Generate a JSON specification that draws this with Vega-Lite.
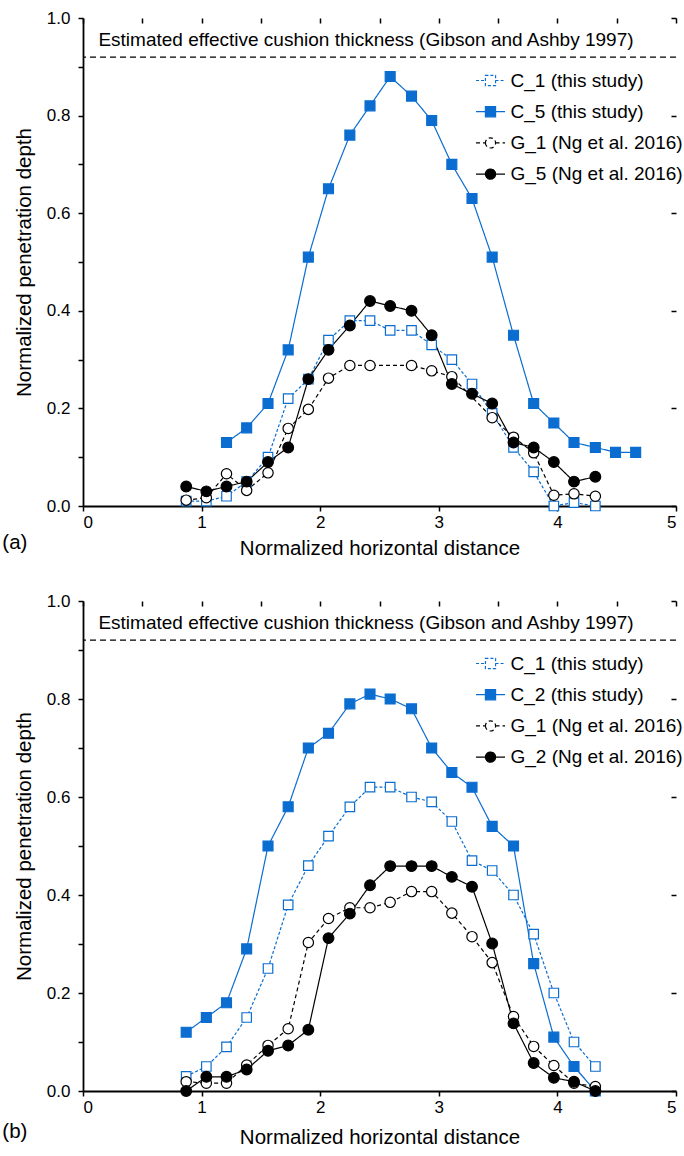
{
  "$schema": "https://vega.github.io/schema/vega-lite/v6.json",
  "padding": {"left": 2, "top": 9, "right": 0, "bottom": 0},
  "spacing": 33,
  "config": {
    "view": {"stroke": null},
    "font": "Liberation Sans",
    "axis": {"domainColor": "black", "domainWidth": 1.8, "tickColor": "black", "tickWidth": 1.5, "labelColor": "black", "titleColor": "black", "labelFont": "Liberation Sans", "titleFont": "Liberation Sans", "labelFontSize": 17, "titleFontSize": 20.5, "titleFontWeight": "normal", "grid": false, "labelOverlap": false},
    "title": {"font": "Liberation Sans", "fontWeight": "normal", "fontSize": 20.5, "color": "black"},
    "legend": {"orient": "none", "legendX": 392, "legendY": 47, "title": null, "labelFontSize": 19, "labelFont": "Liberation Sans", "labelColor": "black", "labelOffset": 4.5, "symbolSize": 841, "rowPadding": 5.2, "labelLimit": 400}
  },
  "datasets": {
    "a": [
      {"s": "C_5 (this study)", "x": 1.21, "y": 0.13}, {"s": "C_5 (this study)", "x": 1.38, "y": 0.16}, {"s": "C_5 (this study)", "x": 1.56, "y": 0.21}, {"s": "C_5 (this study)", "x": 1.73, "y": 0.32}, {"s": "C_5 (this study)", "x": 1.90, "y": 0.51}, {"s": "C_5 (this study)", "x": 2.07, "y": 0.65}, {"s": "C_5 (this study)", "x": 2.25, "y": 0.76}, {"s": "C_5 (this study)", "x": 2.42, "y": 0.82}, {"s": "C_5 (this study)", "x": 2.59, "y": 0.88}, {"s": "C_5 (this study)", "x": 2.77, "y": 0.84}, {"s": "C_5 (this study)", "x": 2.94, "y": 0.79}, {"s": "C_5 (this study)", "x": 3.11, "y": 0.70}, {"s": "C_5 (this study)", "x": 3.28, "y": 0.63}, {"s": "C_5 (this study)", "x": 3.45, "y": 0.51}, {"s": "C_5 (this study)", "x": 3.63, "y": 0.35}, {"s": "C_5 (this study)", "x": 3.80, "y": 0.21}, {"s": "C_5 (this study)", "x": 3.97, "y": 0.17}, {"s": "C_5 (this study)", "x": 4.14, "y": 0.13}, {"s": "C_5 (this study)", "x": 4.32, "y": 0.12}, {"s": "C_5 (this study)", "x": 4.49, "y": 0.11}, {"s": "C_5 (this study)", "x": 4.66, "y": 0.11},
      {"s": "C_1 (this study)", "x": 0.87, "y": 0.01}, {"s": "C_1 (this study)", "x": 1.04, "y": 0.01}, {"s": "C_1 (this study)", "x": 1.21, "y": 0.02}, {"s": "C_1 (this study)", "x": 1.38, "y": 0.05}, {"s": "C_1 (this study)", "x": 1.56, "y": 0.10}, {"s": "C_1 (this study)", "x": 1.73, "y": 0.22}, {"s": "C_1 (this study)", "x": 1.90, "y": 0.26}, {"s": "C_1 (this study)", "x": 2.07, "y": 0.34}, {"s": "C_1 (this study)", "x": 2.25, "y": 0.38}, {"s": "C_1 (this study)", "x": 2.42, "y": 0.38}, {"s": "C_1 (this study)", "x": 2.59, "y": 0.36}, {"s": "C_1 (this study)", "x": 2.77, "y": 0.36}, {"s": "C_1 (this study)", "x": 2.94, "y": 0.33}, {"s": "C_1 (this study)", "x": 3.11, "y": 0.30}, {"s": "C_1 (this study)", "x": 3.28, "y": 0.25}, {"s": "C_1 (this study)", "x": 3.45, "y": 0.19}, {"s": "C_1 (this study)", "x": 3.63, "y": 0.12}, {"s": "C_1 (this study)", "x": 3.80, "y": 0.07}, {"s": "C_1 (this study)", "x": 3.97, "y": 0.0}, {"s": "C_1 (this study)", "x": 4.14, "y": 0.007}, {"s": "C_1 (this study)", "x": 4.32, "y": 0.0},
      {"s": "G_1 (Ng et al. 2016)", "x": 0.87, "y": 0.012}, {"s": "G_1 (Ng et al. 2016)", "x": 1.04, "y": 0.017}, {"s": "G_1 (Ng et al. 2016)", "x": 1.21, "y": 0.066}, {"s": "G_1 (Ng et al. 2016)", "x": 1.38, "y": 0.032}, {"s": "G_1 (Ng et al. 2016)", "x": 1.56, "y": 0.068}, {"s": "G_1 (Ng et al. 2016)", "x": 1.73, "y": 0.159}, {"s": "G_1 (Ng et al. 2016)", "x": 1.90, "y": 0.198}, {"s": "G_1 (Ng et al. 2016)", "x": 2.07, "y": 0.262}, {"s": "G_1 (Ng et al. 2016)", "x": 2.25, "y": 0.288}, {"s": "G_1 (Ng et al. 2016)", "x": 2.42, "y": 0.288}, {"s": "G_1 (Ng et al. 2016)", "x": 2.77, "y": 0.288}, {"s": "G_1 (Ng et al. 2016)", "x": 2.94, "y": 0.277}, {"s": "G_1 (Ng et al. 2016)", "x": 3.11, "y": 0.265}, {"s": "G_1 (Ng et al. 2016)", "x": 3.45, "y": 0.181}, {"s": "G_1 (Ng et al. 2016)", "x": 3.63, "y": 0.141}, {"s": "G_1 (Ng et al. 2016)", "x": 3.80, "y": 0.109}, {"s": "G_1 (Ng et al. 2016)", "x": 3.97, "y": 0.022}, {"s": "G_1 (Ng et al. 2016)", "x": 4.14, "y": 0.025}, {"s": "G_1 (Ng et al. 2016)", "x": 4.32, "y": 0.020},
      {"s": "G_5 (Ng et al. 2016)", "x": 0.87, "y": 0.04}, {"s": "G_5 (Ng et al. 2016)", "x": 1.04, "y": 0.03}, {"s": "G_5 (Ng et al. 2016)", "x": 1.21, "y": 0.04}, {"s": "G_5 (Ng et al. 2016)", "x": 1.38, "y": 0.05}, {"s": "G_5 (Ng et al. 2016)", "x": 1.56, "y": 0.09}, {"s": "G_5 (Ng et al. 2016)", "x": 1.73, "y": 0.12}, {"s": "G_5 (Ng et al. 2016)", "x": 1.90, "y": 0.26}, {"s": "G_5 (Ng et al. 2016)", "x": 2.07, "y": 0.32}, {"s": "G_5 (Ng et al. 2016)", "x": 2.25, "y": 0.37}, {"s": "G_5 (Ng et al. 2016)", "x": 2.42, "y": 0.42}, {"s": "G_5 (Ng et al. 2016)", "x": 2.59, "y": 0.41}, {"s": "G_5 (Ng et al. 2016)", "x": 2.77, "y": 0.40}, {"s": "G_5 (Ng et al. 2016)", "x": 2.94, "y": 0.35}, {"s": "G_5 (Ng et al. 2016)", "x": 3.11, "y": 0.25}, {"s": "G_5 (Ng et al. 2016)", "x": 3.28, "y": 0.23}, {"s": "G_5 (Ng et al. 2016)", "x": 3.45, "y": 0.21}, {"s": "G_5 (Ng et al. 2016)", "x": 3.63, "y": 0.13}, {"s": "G_5 (Ng et al. 2016)", "x": 3.80, "y": 0.12}, {"s": "G_5 (Ng et al. 2016)", "x": 3.97, "y": 0.09}, {"s": "G_5 (Ng et al. 2016)", "x": 4.14, "y": 0.05}, {"s": "G_5 (Ng et al. 2016)", "x": 4.32, "y": 0.06}
    ],
    "b": [
      {"s": "C_2 (this study)", "x": 0.87, "y": 0.12}, {"s": "C_2 (this study)", "x": 1.04, "y": 0.15}, {"s": "C_2 (this study)", "x": 1.21, "y": 0.18}, {"s": "C_2 (this study)", "x": 1.38, "y": 0.29}, {"s": "C_2 (this study)", "x": 1.56, "y": 0.50}, {"s": "C_2 (this study)", "x": 1.73, "y": 0.58}, {"s": "C_2 (this study)", "x": 1.90, "y": 0.70}, {"s": "C_2 (this study)", "x": 2.07, "y": 0.73}, {"s": "C_2 (this study)", "x": 2.25, "y": 0.79}, {"s": "C_2 (this study)", "x": 2.42, "y": 0.81}, {"s": "C_2 (this study)", "x": 2.59, "y": 0.80}, {"s": "C_2 (this study)", "x": 2.77, "y": 0.78}, {"s": "C_2 (this study)", "x": 2.94, "y": 0.70}, {"s": "C_2 (this study)", "x": 3.11, "y": 0.65}, {"s": "C_2 (this study)", "x": 3.28, "y": 0.62}, {"s": "C_2 (this study)", "x": 3.45, "y": 0.54}, {"s": "C_2 (this study)", "x": 3.63, "y": 0.50}, {"s": "C_2 (this study)", "x": 3.80, "y": 0.26}, {"s": "C_2 (this study)", "x": 3.97, "y": 0.11}, {"s": "C_2 (this study)", "x": 4.14, "y": 0.05}, {"s": "C_2 (this study)", "x": 4.32, "y": 0.0},
      {"s": "C_1 (this study)", "x": 0.87, "y": 0.03}, {"s": "C_1 (this study)", "x": 1.04, "y": 0.05}, {"s": "C_1 (this study)", "x": 1.21, "y": 0.09}, {"s": "C_1 (this study)", "x": 1.38, "y": 0.15}, {"s": "C_1 (this study)", "x": 1.56, "y": 0.25}, {"s": "C_1 (this study)", "x": 1.73, "y": 0.38}, {"s": "C_1 (this study)", "x": 1.90, "y": 0.46}, {"s": "C_1 (this study)", "x": 2.07, "y": 0.52}, {"s": "C_1 (this study)", "x": 2.25, "y": 0.58}, {"s": "C_1 (this study)", "x": 2.42, "y": 0.62}, {"s": "C_1 (this study)", "x": 2.59, "y": 0.62}, {"s": "C_1 (this study)", "x": 2.77, "y": 0.60}, {"s": "C_1 (this study)", "x": 2.94, "y": 0.59}, {"s": "C_1 (this study)", "x": 3.11, "y": 0.55}, {"s": "C_1 (this study)", "x": 3.28, "y": 0.47}, {"s": "C_1 (this study)", "x": 3.45, "y": 0.45}, {"s": "C_1 (this study)", "x": 3.63, "y": 0.40}, {"s": "C_1 (this study)", "x": 3.80, "y": 0.32}, {"s": "C_1 (this study)", "x": 3.97, "y": 0.20}, {"s": "C_1 (this study)", "x": 4.14, "y": 0.10}, {"s": "C_1 (this study)", "x": 4.32, "y": 0.05},
      {"s": "G_1 (Ng et al. 2016)", "x": 0.87, "y": 0.019}, {"s": "G_1 (Ng et al. 2016)", "x": 1.04, "y": 0.016}, {"s": "G_1 (Ng et al. 2016)", "x": 1.21, "y": 0.016}, {"s": "G_1 (Ng et al. 2016)", "x": 1.38, "y": 0.053}, {"s": "G_1 (Ng et al. 2016)", "x": 1.56, "y": 0.093}, {"s": "G_1 (Ng et al. 2016)", "x": 1.73, "y": 0.127}, {"s": "G_1 (Ng et al. 2016)", "x": 1.90, "y": 0.303}, {"s": "G_1 (Ng et al. 2016)", "x": 2.07, "y": 0.352}, {"s": "G_1 (Ng et al. 2016)", "x": 2.25, "y": 0.374}, {"s": "G_1 (Ng et al. 2016)", "x": 2.42, "y": 0.374}, {"s": "G_1 (Ng et al. 2016)", "x": 2.59, "y": 0.385}, {"s": "G_1 (Ng et al. 2016)", "x": 2.77, "y": 0.407}, {"s": "G_1 (Ng et al. 2016)", "x": 2.94, "y": 0.407}, {"s": "G_1 (Ng et al. 2016)", "x": 3.11, "y": 0.363}, {"s": "G_1 (Ng et al. 2016)", "x": 3.28, "y": 0.315}, {"s": "G_1 (Ng et al. 2016)", "x": 3.45, "y": 0.262}, {"s": "G_1 (Ng et al. 2016)", "x": 3.63, "y": 0.152}, {"s": "G_1 (Ng et al. 2016)", "x": 3.80, "y": 0.091}, {"s": "G_1 (Ng et al. 2016)", "x": 3.97, "y": 0.052}, {"s": "G_1 (Ng et al. 2016)", "x": 4.14, "y": 0.016}, {"s": "G_1 (Ng et al. 2016)", "x": 4.32, "y": 0.009},
      {"s": "G_2 (Ng et al. 2016)", "x": 0.87, "y": 0.0}, {"s": "G_2 (Ng et al. 2016)", "x": 1.04, "y": 0.029}, {"s": "G_2 (Ng et al. 2016)", "x": 1.21, "y": 0.029}, {"s": "G_2 (Ng et al. 2016)", "x": 1.38, "y": 0.044}, {"s": "G_2 (Ng et al. 2016)", "x": 1.56, "y": 0.082}, {"s": "G_2 (Ng et al. 2016)", "x": 1.73, "y": 0.093}, {"s": "G_2 (Ng et al. 2016)", "x": 1.90, "y": 0.125}, {"s": "G_2 (Ng et al. 2016)", "x": 2.07, "y": 0.312}, {"s": "G_2 (Ng et al. 2016)", "x": 2.25, "y": 0.362}, {"s": "G_2 (Ng et al. 2016)", "x": 2.42, "y": 0.420}, {"s": "G_2 (Ng et al. 2016)", "x": 2.59, "y": 0.459}, {"s": "G_2 (Ng et al. 2016)", "x": 2.77, "y": 0.459}, {"s": "G_2 (Ng et al. 2016)", "x": 2.94, "y": 0.459}, {"s": "G_2 (Ng et al. 2016)", "x": 3.11, "y": 0.437}, {"s": "G_2 (Ng et al. 2016)", "x": 3.28, "y": 0.417}, {"s": "G_2 (Ng et al. 2016)", "x": 3.45, "y": 0.301}, {"s": "G_2 (Ng et al. 2016)", "x": 3.63, "y": 0.138}, {"s": "G_2 (Ng et al. 2016)", "x": 3.80, "y": 0.057}, {"s": "G_2 (Ng et al. 2016)", "x": 3.97, "y": 0.027}, {"s": "G_2 (Ng et al. 2016)", "x": 4.14, "y": 0.019}, {"s": "G_2 (Ng et al. 2016)", "x": 4.32, "y": 0.0}
    ]
  },
  "resolve": {"scale": {"stroke": "independent", "strokeDash": "independent", "strokeWidth": "independent", "fill": "independent", "shape": "independent", "size": "independent"}},
  "vconcat": [
    {
      "width": 593, "height": 488,
      "title": {"text": "(a)", "orient": "bottom", "anchor": "start", "frame": "bounds", "offset": -26, "dx": -12},
      "resolve": {"axis": {"x": "independent", "y": "independent"}, "scale": {"stroke": "independent", "strokeDash": "independent", "strokeWidth": "independent", "fill": "independent", "shape": "independent", "size": "independent"}},
      "layer": [
        {"data": {"values": [{"t": 0.92}]}, "mark": {"type": "rule", "strokeDash": [6, 4], "strokeWidth": 1.3, "color": "black"}, "encoding": {"y": {"field": "t", "type": "quantitative", "axis": null}}},
        {"data": {"values": [{"t": 0.92, "label": "Estimated effective cushion thickness  (Gibson and Ashby 1997)"}]}, "mark": {"type": "text", "align": "left", "baseline": "middle", "fontSize": 19, "dy": -17, "color": "black"}, "encoding": {"x": {"datum": 0.13, "type": "quantitative", "axis": null}, "y": {"field": "t", "type": "quantitative", "axis": null}, "text": {"field": "label"}}},
        {"data": {"name": "a"}, "mark": {"type": "line"},
          "encoding": {
            "x": {"field": "x", "type": "quantitative", "scale": {"domain": [0, 5], "nice": false}, "axis": {"values": [0, 1, 2, 3, 4, 5], "tickSize": 5, "labelPadding": 3, "titlePadding": 8, "title": "Normalized horizontal distance"}},
            "y": {"field": "y", "type": "quantitative", "scale": {"domain": [0, 1], "nice": false}, "axis": {"values": [0, 0.1, 0.2, 0.3, 0.4, 0.5, 0.6, 0.7, 0.8, 0.9, 1.0], "tickSize": 5, "labelPadding": 8, "titlePadding": 12, "labelExpr": "round(datum.value*10) % 2 == 0 ? format(datum.value, '.1f') : ''", "title": "Normalized penetration depth"}},
            "stroke": {"field": "s", "type": "nominal", "scale": {"domain": ["C_1 (this study)", "C_5 (this study)", "G_1 (Ng et al. 2016)", "G_5 (Ng et al. 2016)"], "range": ["#0b6dd0", "#0b6dd0", "black", "black"]}, "legend": null},
            "strokeDash": {"field": "s", "type": "nominal", "scale": {"domain": ["C_1 (this study)", "C_5 (this study)", "G_1 (Ng et al. 2016)", "G_5 (Ng et al. 2016)"], "range": [[3, 2], [1, 0], [4, 3], [1, 0]]}, "legend": null},
            "strokeWidth": {"field": "s", "type": "nominal", "scale": {"domain": ["C_1 (this study)", "C_5 (this study)", "G_1 (Ng et al. 2016)", "G_5 (Ng et al. 2016)"], "range": [1.2, 1.2, 1, 2]}, "legend": null}
          }},
        {"data": {"name": "a"}, "mark": {"type": "point", "filled": true, "opacity": 1, "strokeWidth": 1.2},
          "encoding": {
            "x": {"field": "x", "type": "quantitative", "scale": {"domain": [0, 5], "nice": false}, "axis": {"values": [0, 0.5, 1, 1.5, 2, 2.5, 3, 3.5, 4, 4.5, 5], "tickSize": -5, "labels": false, "domain": false, "title": null}},
            "y": {"field": "y", "type": "quantitative", "scale": {"domain": [0, 1], "nice": false}, "axis": {"values": [0, 0.2, 0.4, 0.6, 0.8, 1.0], "tickSize": -5, "labels": false, "domain": false, "title": null}},
            "stroke": {"field": "s", "type": "nominal", "scale": {"domain": ["C_1 (this study)", "C_5 (this study)", "G_1 (Ng et al. 2016)", "G_5 (Ng et al. 2016)"], "range": ["#0b6dd0", "#0b6dd0", "black", "black"]}, "legend": null},
            "fill": {"field": "s", "type": "nominal", "scale": {"domain": ["C_1 (this study)", "C_5 (this study)", "G_1 (Ng et al. 2016)", "G_5 (Ng et al. 2016)"], "range": ["white", "#0b6dd0", "white", "black"]}, "legend": null},
            "shape": {"field": "s", "type": "nominal", "scale": {"domain": ["C_1 (this study)", "C_5 (this study)", "G_1 (Ng et al. 2016)", "G_5 (Ng et al. 2016)"], "range": ["square", "square", "circle", "circle"]}, "legend": null},
            "size": {"field": "s", "type": "nominal", "scale": {"domain": ["C_1 (this study)", "C_5 (this study)", "G_1 (Ng et al. 2016)", "G_5 (Ng et al. 2016)"], "range": [90, 115, 90, 115]}, "legend": null}
          }},
        {"data": {"name": "a"}, "transform": [{"filter": "false"}], "mark": {"type": "point", "filled": true, "opacity": 1},
          "encoding": {
            "shape": {"field": "s", "type": "nominal", "scale": {"domain": ["C_1 (this study)", "C_5 (this study)", "G_1 (Ng et al. 2016)", "G_5 (Ng et al. 2016)"], "range": ["M-1,0H-0.35M-0.35,-0.35H0.35V0.35H-0.35ZM0.35,0H1", "M-1,0H-0.35M-0.35,-0.35H0.35V0.35H-0.35ZM0.35,0H1", "M-1,0H-0.35M-0.35,0A0.35,0.35 0 1,0 0.35,0A0.35,0.35 0 1,0 -0.35,0M0.35,0H1", "M-1,0H-0.35M-0.35,0A0.35,0.35 0 1,0 0.35,0A0.35,0.35 0 1,0 -0.35,0M0.35,0H1"]}},
            "stroke": {"field": "s", "type": "nominal", "scale": {"domain": ["C_1 (this study)", "C_5 (this study)", "G_1 (Ng et al. 2016)", "G_5 (Ng et al. 2016)"], "range": ["#0b6dd0", "#0b6dd0", "black", "black"]}},
            "fill": {"field": "s", "type": "nominal", "scale": {"domain": ["C_1 (this study)", "C_5 (this study)", "G_1 (Ng et al. 2016)", "G_5 (Ng et al. 2016)"], "range": ["white", "#0b6dd0", "white", "black"]}},
            "strokeDash": {"field": "s", "type": "nominal", "scale": {"domain": ["C_1 (this study)", "C_5 (this study)", "G_1 (Ng et al. 2016)", "G_5 (Ng et al. 2016)"], "range": [[3, 2], [1, 0], [4, 3], [1, 0]]}},
            "strokeWidth": {"field": "s", "type": "nominal", "scale": {"domain": ["C_1 (this study)", "C_5 (this study)", "G_1 (Ng et al. 2016)", "G_5 (Ng et al. 2016)"], "range": [1.2, 1.2, 1.2, 2]}}
          }}
      ]
    },
    {
      "width": 593, "height": 490,
      "title": {"text": "(b)", "orient": "bottom", "anchor": "start", "frame": "bounds", "offset": -26, "dx": -12},
      "resolve": {"axis": {"x": "independent", "y": "independent"}, "scale": {"stroke": "independent", "strokeDash": "independent", "strokeWidth": "independent", "fill": "independent", "shape": "independent", "size": "independent"}},
      "layer": [
        {"data": {"values": [{"t": 0.92}]}, "mark": {"type": "rule", "strokeDash": [6, 4], "strokeWidth": 1.3, "color": "black"}, "encoding": {"y": {"field": "t", "type": "quantitative", "axis": null}}},
        {"data": {"values": [{"t": 0.92, "label": "Estimated effective cushion thickness  (Gibson and Ashby 1997)"}]}, "mark": {"type": "text", "align": "left", "baseline": "middle", "fontSize": 19, "dy": -17, "color": "black"}, "encoding": {"x": {"datum": 0.13, "type": "quantitative", "axis": null}, "y": {"field": "t", "type": "quantitative", "axis": null}, "text": {"field": "label"}}},
        {"data": {"name": "b"}, "mark": {"type": "line"},
          "encoding": {
            "x": {"field": "x", "type": "quantitative", "scale": {"domain": [0, 5], "nice": false}, "axis": {"values": [0, 1, 2, 3, 4, 5], "tickSize": 5, "labelPadding": 3, "titlePadding": 12, "title": "Normalized horizontal distance"}},
            "y": {"field": "y", "type": "quantitative", "scale": {"domain": [0, 1], "nice": false}, "axis": {"values": [0, 0.1, 0.2, 0.3, 0.4, 0.5, 0.6, 0.7, 0.8, 0.9, 1.0], "tickSize": 5, "labelPadding": 8, "titlePadding": 12, "labelExpr": "round(datum.value*10) % 2 == 0 ? format(datum.value, '.1f') : ''", "title": "Normalized penetration depth"}},
            "stroke": {"field": "s", "type": "nominal", "scale": {"domain": ["C_1 (this study)", "C_2 (this study)", "G_1 (Ng et al. 2016)", "G_2 (Ng et al. 2016)"], "range": ["#0b6dd0", "#0b6dd0", "black", "black"]}, "legend": null},
            "strokeDash": {"field": "s", "type": "nominal", "scale": {"domain": ["C_1 (this study)", "C_2 (this study)", "G_1 (Ng et al. 2016)", "G_2 (Ng et al. 2016)"], "range": [[3, 2], [1, 0], [4, 3], [1, 0]]}, "legend": null},
            "strokeWidth": {"field": "s", "type": "nominal", "scale": {"domain": ["C_1 (this study)", "C_2 (this study)", "G_1 (Ng et al. 2016)", "G_2 (Ng et al. 2016)"], "range": [1.2, 1.2, 1, 2]}, "legend": null}
          }},
        {"data": {"name": "b"}, "mark": {"type": "point", "filled": true, "opacity": 1, "strokeWidth": 1.2},
          "encoding": {
            "x": {"field": "x", "type": "quantitative", "scale": {"domain": [0, 5], "nice": false}, "axis": {"values": [0, 0.5, 1, 1.5, 2, 2.5, 3, 3.5, 4, 4.5, 5], "tickSize": -5, "labels": false, "domain": false, "title": null}},
            "y": {"field": "y", "type": "quantitative", "scale": {"domain": [0, 1], "nice": false}, "axis": {"values": [0, 0.2, 0.4, 0.6, 0.8, 1.0], "tickSize": -5, "labels": false, "domain": false, "title": null}},
            "stroke": {"field": "s", "type": "nominal", "scale": {"domain": ["C_1 (this study)", "C_2 (this study)", "G_1 (Ng et al. 2016)", "G_2 (Ng et al. 2016)"], "range": ["#0b6dd0", "#0b6dd0", "black", "black"]}, "legend": null},
            "fill": {"field": "s", "type": "nominal", "scale": {"domain": ["C_1 (this study)", "C_2 (this study)", "G_1 (Ng et al. 2016)", "G_2 (Ng et al. 2016)"], "range": ["white", "#0b6dd0", "white", "black"]}, "legend": null},
            "shape": {"field": "s", "type": "nominal", "scale": {"domain": ["C_1 (this study)", "C_2 (this study)", "G_1 (Ng et al. 2016)", "G_2 (Ng et al. 2016)"], "range": ["square", "square", "circle", "circle"]}, "legend": null},
            "size": {"field": "s", "type": "nominal", "scale": {"domain": ["C_1 (this study)", "C_2 (this study)", "G_1 (Ng et al. 2016)", "G_2 (Ng et al. 2016)"], "range": [90, 115, 90, 115]}, "legend": null}
          }},
        {"data": {"name": "b"}, "transform": [{"filter": "false"}], "mark": {"type": "point", "filled": true, "opacity": 1},
          "encoding": {
            "shape": {"field": "s", "type": "nominal", "scale": {"domain": ["C_1 (this study)", "C_2 (this study)", "G_1 (Ng et al. 2016)", "G_2 (Ng et al. 2016)"], "range": ["M-1,0H-0.35M-0.35,-0.35H0.35V0.35H-0.35ZM0.35,0H1", "M-1,0H-0.35M-0.35,-0.35H0.35V0.35H-0.35ZM0.35,0H1", "M-1,0H-0.35M-0.35,0A0.35,0.35 0 1,0 0.35,0A0.35,0.35 0 1,0 -0.35,0M0.35,0H1", "M-1,0H-0.35M-0.35,0A0.35,0.35 0 1,0 0.35,0A0.35,0.35 0 1,0 -0.35,0M0.35,0H1"]}},
            "stroke": {"field": "s", "type": "nominal", "scale": {"domain": ["C_1 (this study)", "C_2 (this study)", "G_1 (Ng et al. 2016)", "G_2 (Ng et al. 2016)"], "range": ["#0b6dd0", "#0b6dd0", "black", "black"]}},
            "fill": {"field": "s", "type": "nominal", "scale": {"domain": ["C_1 (this study)", "C_2 (this study)", "G_1 (Ng et al. 2016)", "G_2 (Ng et al. 2016)"], "range": ["white", "#0b6dd0", "white", "black"]}},
            "strokeDash": {"field": "s", "type": "nominal", "scale": {"domain": ["C_1 (this study)", "C_2 (this study)", "G_1 (Ng et al. 2016)", "G_2 (Ng et al. 2016)"], "range": [[3, 2], [1, 0], [4, 3], [1, 0]]}},
            "strokeWidth": {"field": "s", "type": "nominal", "scale": {"domain": ["C_1 (this study)", "C_2 (this study)", "G_1 (Ng et al. 2016)", "G_2 (Ng et al. 2016)"], "range": [1.2, 1.2, 1.2, 2]}}
          }}
      ]
    }
  ]
}
